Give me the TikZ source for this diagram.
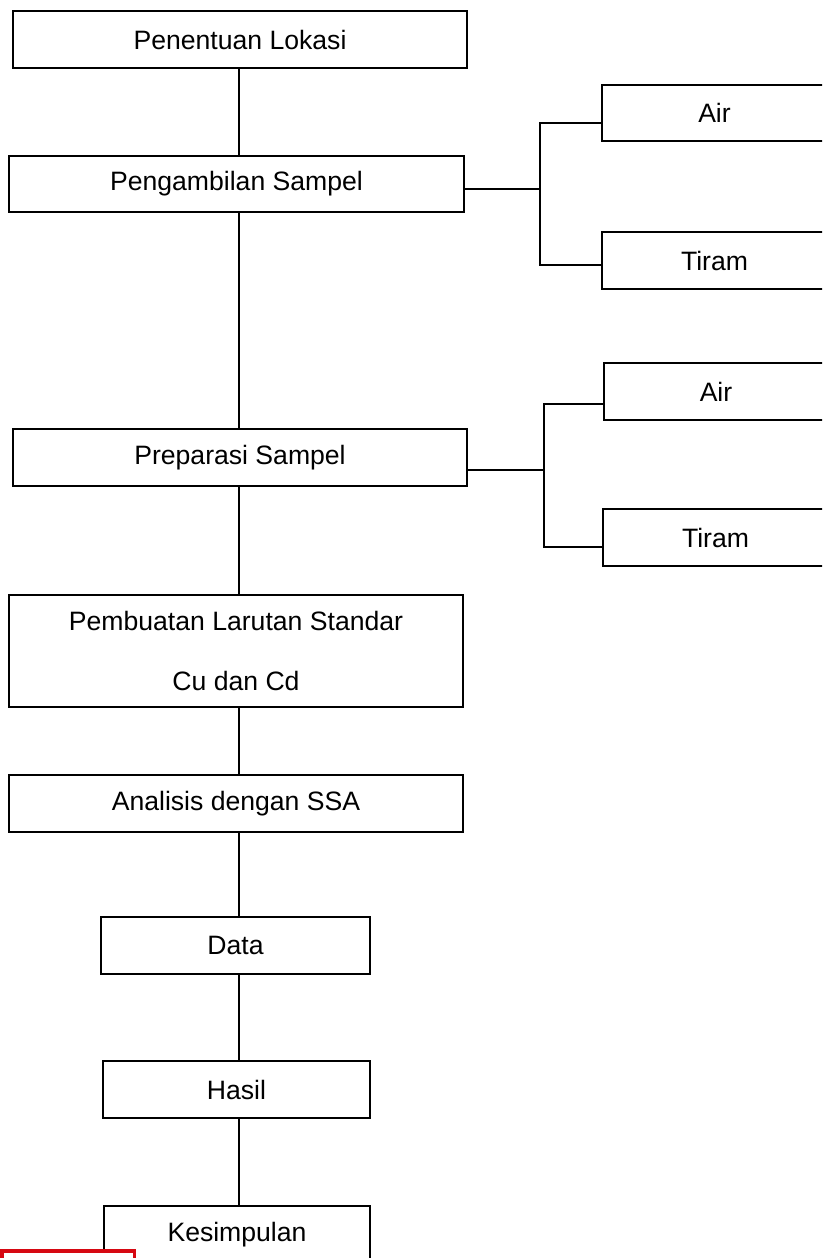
\documentclass[tikz,border=0pt]{standalone}
\usepackage{fontspec}
\setmainfont{Liberation Sans}

\begin{document}
\begin{tikzpicture}[x=1pt, y=-1pt, line width=2pt,
    stepbox/.style={draw, rectangle, inner sep=0pt, outer sep=0pt, minimum height=57pt, align=center, font=\fontsize{26.6}{60}\selectfont},
    wide/.style={stepbox, minimum width=454pt},
    narrow/.style={stepbox, minimum width=267pt},
    side/.style={stepbox, minimum width=226pt}]
        \useasboundingbox (0,0) rectangle (822,1258);
        \clip (0,0) rectangle (822,1258);
        \coordinate (trunk) at (239,0);
        \node[wide] (lokasi) at (240,39.5) {Penentuan Lokasi};
        \node[wide, minimum width=455pt, minimum height=56pt] (ambil) at (236.5,184) {Pengambilan Sampel};
        \node[side, minimum height=56pt] (air1) at (714.5,113) {Air};
        \node[side] (tiram1) at (714.5,260.5) {Tiram};
        \node[wide] (prep) at (240,457.5) {Preparasi Sampel};
        \node[side, minimum width=224pt] (air2) at (716,391.5) {Air};
        \node[side, minimum width=225pt] (tiram2) at (715.5,537.5) {Tiram};
        \node[wide, minimum height=112pt] (larutan) at (236,651) {Pembuatan Larutan Standar\\Cu dan Cd};
        \node[wide] (ssa) at (236,803.5) {Analisis dengan SSA};
        \node[narrow, minimum width=269pt] (data) at (235.5,945.5) {Data};
        \node[narrow] (hasil) at (236.5,1089.5) {Hasil};
        \node[narrow, minimum width=266pt] (simpul) at (237,1234.5) {Kesimpulan};
        % main line
        \draw (lokasi.south -| trunk) -- (ambil.north -| trunk);
        \draw (ambil.south -| trunk) -- (prep.north -| trunk);
        \draw (prep.south -| trunk) -- (larutan.north -| trunk);
        \draw (larutan.south -| trunk) -- (ssa.north -| trunk);
        \draw (ssa.south -| trunk) -- (data.north -| trunk);
        \draw (data.south -| trunk) -- (hasil.north -| trunk);
        \draw (hasil.south -| trunk) -- (simpul.north -| trunk);
        % branches
        \coordinate (fork1) at (540,189);
        \draw (ambil.east |- fork1) -- (fork1);
        \draw ([yshift=-10pt]air1.west) -| (fork1);
        \draw ([yshift=-4.5pt]tiram1.west) -| (fork1);
        \coordinate (fork2) at (544,470);
        \draw (prep.east |- fork2) -- (fork2);
        \draw ([yshift=-12.5pt]air2.west) -| (fork2);
        \draw ([yshift=-9.5pt]tiram2.west) -| (fork2);
        \draw[draw={rgb,255:red,214;green,8;blue,18}, fill=white, line width=3.5pt] (1.75,1250.75) rectangle (134.25,1264);
      \end{tikzpicture}
\end{document}
